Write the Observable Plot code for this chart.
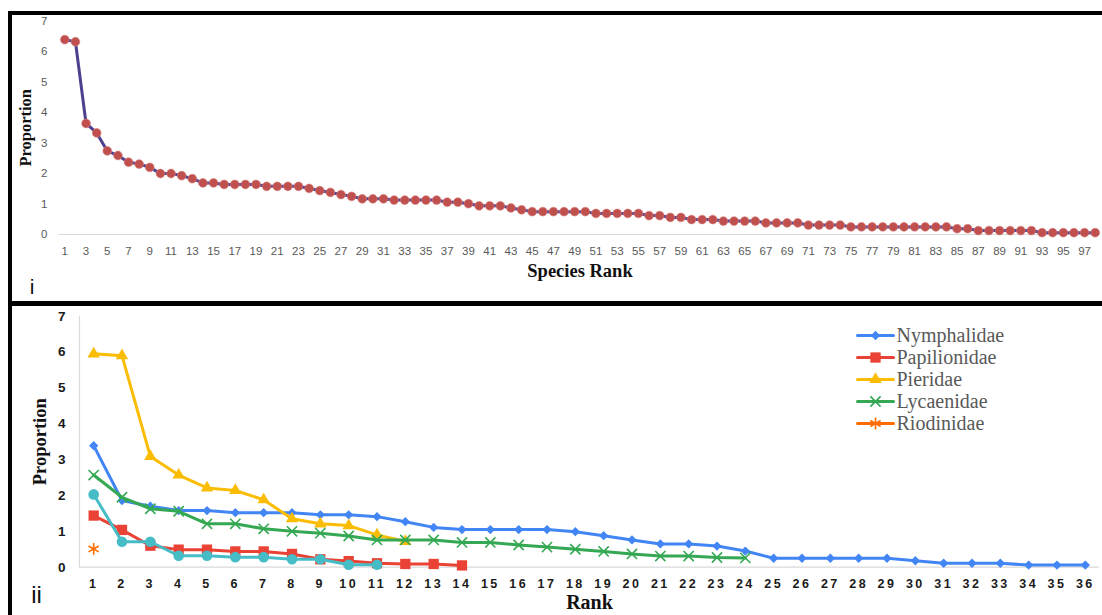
<!DOCTYPE html>
<html><head><meta charset="utf-8">
<script src="https://cdn.jsdelivr.net/npm/d3@7"></script>
<script src="https://cdn.jsdelivr.net/npm/@observablehq/plot@0.6"></script>
<style>
body{margin:0;background:#fff;}
#wrap{position:relative;width:1102px;height:615px;overflow:hidden;background:#fff;}
#wrap svg{position:absolute;}
.b{position:absolute;background:#000;}
</style></head><body><div id="wrap">
<div class="b" style="left:8px;top:11px;width:1094px;height:4px"></div>
<div class="b" style="left:8px;top:11px;width:4px;height:604px"></div>
<div class="b" style="left:8px;top:301px;width:1094px;height:5px"></div>
</div>
<script>
// ---- Panel i: proportion of each species by rank ----
const speciesProportion = [
  6.39, 6.32, 3.64, 3.33, 2.74, 2.59, 2.37, 2.31, 2.20, 2.00,
  2.00, 1.93, 1.83, 1.69, 1.69, 1.64, 1.64, 1.64, 1.64, 1.58,
  1.58, 1.58, 1.58, 1.51, 1.44, 1.38, 1.31, 1.25, 1.17, 1.17,
  1.17, 1.13, 1.13, 1.13, 1.13, 1.13, 1.06, 1.06, 1.01, 0.94,
  0.94, 0.94, 0.87, 0.81, 0.75, 0.75, 0.75, 0.75, 0.75, 0.75,
  0.69, 0.69, 0.69, 0.69, 0.69, 0.62, 0.62, 0.56, 0.56, 0.49,
  0.49, 0.49, 0.44, 0.44, 0.44, 0.44, 0.38, 0.38, 0.38, 0.38,
  0.31, 0.31, 0.31, 0.31, 0.25, 0.25, 0.25, 0.25, 0.25, 0.25,
  0.25, 0.25, 0.25, 0.25, 0.19, 0.19, 0.13, 0.13, 0.13, 0.13,
  0.13, 0.13, 0.06, 0.06, 0.06, 0.06, 0.06, 0.06
];
const speciesTicks = [1,3,5,7,9,11,13,15,17,19,21,23,25,27,29,31,33,35,37,39,41,43,45,47,49,51,53,55,57,59,61,63,65,67,69,71,73,75,77,79,81,83,85,87,89,91,93,95,97];
const proportionTicks = [0,1,2,3,4,5,6,7];

// ---- Panel ii: proportion by rank within each family ----
const nymphalidae = [3.39,1.86,1.70,1.58,1.58,1.52,1.52,1.52,1.46,1.46,1.41,1.27,1.11,1.05,1.05,1.05,1.05,0.99,0.88,0.76,0.65,0.65,0.59,0.45,0.25,0.25,0.25,0.25,0.25,0.18,0.11,0.11,0.11,0.06,0.06,0.06];
const papilionidae = [1.44,1.04,0.60,0.49,0.49,0.44,0.44,0.37,0.22,0.17,0.11,0.09,0.09,0.05];
const pieridae = [5.95,5.90,3.09,2.57,2.21,2.14,1.88,1.35,1.21,1.16,0.90,0.72];
const lycaenidae = [2.57,1.95,1.63,1.56,1.21,1.21,1.07,1.00,0.95,0.87,0.76,0.76,0.76,0.69,0.69,0.62,0.56,0.50,0.44,0.37,0.31,0.31,0.27,0.26];
const riodinidae = [0.51];
const hesperiidae = [2.03,0.71,0.71,0.32,0.32,0.28,0.28,0.22,0.22,0.07,0.07];
const rankTicks = [1,2,3,4,5,6,7,8,9,10,11,12,13,14,15,16,17,18,19,20,21,22,23,24,25,26,27,28,29,30,31,32,33,34,35,36];

const familyNames = ["Nymphalidae","Papilionidae","Pieridae","Lycaenidae","Riodinidae","Hesperiidae"];
const familyValues = [nymphalidae, papilionidae, pieridae, lycaenidae, riodinidae, hesperiidae];
const legendNames = ["Nymphalidae","Papilionidae","Pieridae","Lycaenidae","Riodinidae"];

// styles
const familyColors = ["#4285f4","#ea4335","#fbbc04","#34a853","#ff6d01","#46bdc6"];
const familySymbols = ["diamond2","square","triangle","times","asterisk","circle"];
const familyRadius = [4.2, 5.8, 4.6, 4.7, 5.6, 5.3];
const strokedSymbols = new Set(["times","asterisk"]);

const serif = "Liberation Serif, Times New Roman, serif";
const sans = "Liberation Sans, Arial, sans-serif";
const wrap = document.getElementById("wrap");

// ---------- Panel i ----------
const topData = speciesProportion.map((v, i) => ({rank: i + 1, value: v}));
const topPlot = Plot.plot({
  width: 1090, height: 285,
  marginLeft: 47, marginRight: 2, marginTop: 5.5, marginBottom: 66,
  x: {type: "linear", domain: [0.5, 98.5]},
  y: {domain: [0, 7]},
  style: {fontFamily: sans, fontSize: "11px", background: "transparent"},
  marks: [
    Plot.ruleY([0], {stroke: "#d9d9d9", strokeWidth: 1.2}),
    Plot.axisY({ticks: proportionTicks, tickSize: 0, tickPadding: 12, label: null, fill: "#595959", fontSize: 11.5, tickFormat: d => String(d)}),
    Plot.axisX({ticks: speciesTicks, tickSize: 0, tickPadding: 12, label: null, fill: "#595959", fontSize: 11.5, tickFormat: d => String(d)}),
    Plot.line(topData, {x: "rank", y: "value", stroke: "#4e3f8f", strokeWidth: 3}),
    Plot.dot(topData, {x: "rank", y: "value", fill: "#c0504d", r: 4.4, stroke: "#d98080", strokeWidth: 0.6}),
    Plot.text(["Species Rank"], {frameAnchor: "bottom", textAnchor: "middle", lineAnchor: "middle", dy: 36.7, fontFamily: serif, fontWeight: "bold", fontSize: 18.5, fill: "#111"}),
    Plot.text(["Proportion"], {frameAnchor: "left", textAnchor: "middle", lineAnchor: "middle", dx: -34, rotate: -90, fontFamily: serif, fontWeight: "bold", fontSize: 16.5, fill: "#111"}),
    Plot.text(["i"], {frameAnchor: "bottom-left", textAnchor: "middle", lineAnchor: "middle", dx: -27.5, dy: 52.3, fontFamily: sans, fontSize: 21, fill: "#111"})
  ]
});
topPlot.style.left = "12px"; topPlot.style.top = "15px";
wrap.appendChild(topPlot);

// ---------- Panel ii ----------
const xDomain = [0.5, 36.5];
const familyMarks = [];
familyNames.forEach((name, k) => {
  const data = familyValues[k].map((v, i) => ({rank: i + 1, value: v, family: name}));
  const color = familyColors[k];
  if (data.length > 1) familyMarks.push(Plot.line(data, {x: "rank", y: "value", stroke: color, strokeWidth: 3}));
  const sym = familySymbols[k];
  if (strokedSymbols.has(sym)) {
    familyMarks.push(Plot.dot(data, {x: "rank", y: "value", symbol: sym, r: familyRadius[k], stroke: color, strokeWidth: 1.6, fill: "none"}));
  } else {
    familyMarks.push(Plot.dot(data, {x: "rank", y: "value", symbol: sym, r: familyRadius[k], fill: color, stroke: "none"}));
  }
});

const botPlot = Plot.plot({
  width: 1090, height: 309,
  marginLeft: 67, marginRight: 3, marginTop: 9.7, marginBottom: 48.3,
  x: {type: "linear", domain: xDomain},
  y: {domain: [0, 7]},
  style: {fontFamily: sans, fontSize: "13px", background: "transparent"},
  marks: [
    Plot.ruleX([xDomain[0]], {y1: 0, y2: 7, stroke: "#d9d9d9", strokeWidth: 1.2}),
    Plot.ruleY([0], {stroke: "#d9d9d9", strokeWidth: 1.2}),
    Plot.axisY({ticks: proportionTicks, tickSize: 0, tickPadding: 14, label: null, fill: "#1a1a1a", fontWeight: "bold", fontSize: 13.5, tickFormat: d => String(d)}),
    Plot.axisX({ticks: rankTicks, tickSize: 0, tickPadding: 11.5, label: null, fill: "#1a1a1a", fontWeight: "bold", fontSize: 12.5, tickFormat: d => String(d)}),
    ...familyMarks,
    Plot.text(["Rank"], {frameAnchor: "bottom", textAnchor: "middle", lineAnchor: "middle", dy: 35.3, fontFamily: serif, fontWeight: "bold", fontSize: 20, fill: "#111"}),
    Plot.text(["Proportion"], {frameAnchor: "left", textAnchor: "middle", lineAnchor: "middle", dx: -39, rotate: -90, fontFamily: serif, fontWeight: "bold", fontSize: 18.5, fill: "#111"}),
    Plot.text(["ii"], {frameAnchor: "bottom-left", textAnchor: "middle", lineAnchor: "middle", dx: -43, dy: 28.3, fontFamily: sans, fontSize: 24, fill: "#111"})
  ]
});
botPlot.style.left = "12px"; botPlot.style.top = "306px";
d3.select(botPlot).selectAll('g[aria-label="x-axis tick label"] text').style("letter-spacing", "2.5px");
wrap.appendChild(botPlot);

// ---------- Legend (panel ii) ----------
const legendLine = legendNames.flatMap(n => [{name: n, t: 0}, {name: n, t: 1}]);
const legendMarks = [
  Plot.line(legendLine, {x: "t", y: "name", z: "name", stroke: d => familyColors[familyNames.indexOf(d.name)], strokeWidth: 3})
];
legendNames.forEach(n => {
  const k = familyNames.indexOf(n);
  const sym = familySymbols[k];
  if (strokedSymbols.has(sym)) {
    legendMarks.push(Plot.dot([n], {x: () => 0.5, y: d => d, symbol: sym, r: familyRadius[k], stroke: familyColors[k], strokeWidth: 1.6, fill: "none"}));
  } else {
    legendMarks.push(Plot.dot([n], {x: () => 0.5, y: d => d, symbol: sym, r: familyRadius[k], fill: familyColors[k], stroke: "none"}));
  }
});
legendMarks.push(Plot.text(legendNames, {x: () => 1, y: d => d, text: d => d, dx: 3, textAnchor: "start", lineAnchor: "middle", fontFamily: serif, fontSize: 20, fill: "#595959"}));
const legendPlot = Plot.plot({
  width: 240, height: 110,
  marginLeft: 7, marginRight: 197, marginTop: 11, marginBottom: 11,
  x: {domain: [0, 1], axis: null},
  y: {type: "point", domain: legendNames, padding: 0, axis: null},
  style: {background: "transparent", overflow: "visible"},
  marks: legendMarks
});
legendPlot.style.left = "850px"; legendPlot.style.top = "324px";
wrap.appendChild(legendPlot);
</script></body></html>
